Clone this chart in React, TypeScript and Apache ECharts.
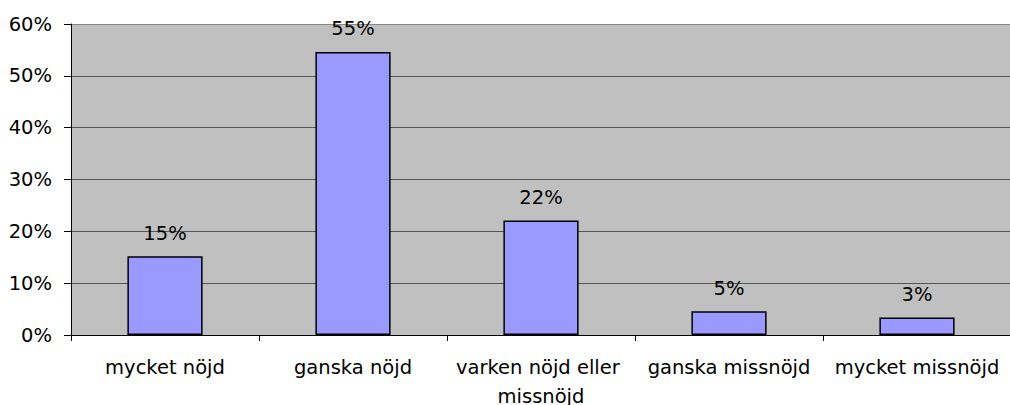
import React, { useEffect, useRef } from "react";
import * as echarts from "echarts";

const categories = ["mycket nöjd", "ganska nöjd", "varken nöjd eller missnöjd", "ganska missnöjd", "mycket missnöjd"];
const values = [15.2, 54.6, 22.1, 4.6, 3.4];
const yTicks = { min: 0, max: 60, interval: 10 };

export default function App() {
  const ref = useRef<HTMLDivElement>(null);
  useEffect(() => {
    const chart = echarts.init(ref.current!, null, { renderer: "svg" });
    const font = "DejaVu Sans, Liberation Sans, Arial, sans-serif";
    const fs = 19.5;
    chart.setOption({
      animation: false,
      backgroundColor: "#ffffff",
      grid: {
        left: 71,
        right: -1,
        top: 24,
        bottom: 70,
        show: true,
        backgroundColor: "#C0C0C0",
        borderWidth: 0,
        containLabel: false,
        outerBoundsMode: "none",
      },
      xAxis: {
        type: "category",
        data: categories,
        axisLine: { lineStyle: { color: "#000", width: 1 } },
        axisTick: { show: true, length: 6, lineStyle: { color: "#000" } },
        axisLabel: {
          interval: 0,
          color: "#000",
          fontFamily: font,
          fontSize: fs,
          margin: 18,
          width: 186,
          overflow: "break",
          lineHeight: 29,
        },
      },
      yAxis: {
        type: "value",
        min: yTicks.min,
        max: yTicks.max,
        interval: yTicks.interval,
        axisLine: { show: true, lineStyle: { color: "#000", width: 1 } },
        axisTick: { show: true, length: 7, lineStyle: { color: "#000" } },
        axisLabel: {
          formatter: "{value}%",
          color: "#000",
          fontFamily: font,
          fontSize: fs,
          margin: 19,
        },
        splitLine: {
          show: true,
          lineStyle: {
            color: ["#555", "#555", "#555", "#555", "#555", "#555", "#888"],
            width: 1,
          },
        },
      },
      series: [
        {
          type: "bar",
          data: values,
          barWidth: "40%",
          itemStyle: { color: "#9999FF", borderColor: "#000", borderWidth: 1.5 },
          label: {
            show: true,
            position: "top",
            distance: 13,
            color: "#000",
            fontFamily: font,
            fontSize: fs,
            formatter: (p: any) => Math.round(p.value) + "%",
          },
        },
      ],
    });
    return () => chart.dispose();
  }, []);
  return (
    <div
      ref={ref}
      style={{ position: "absolute", left: 0, top: 0, width: 1010, height: 405 }}
    />
  );
}
